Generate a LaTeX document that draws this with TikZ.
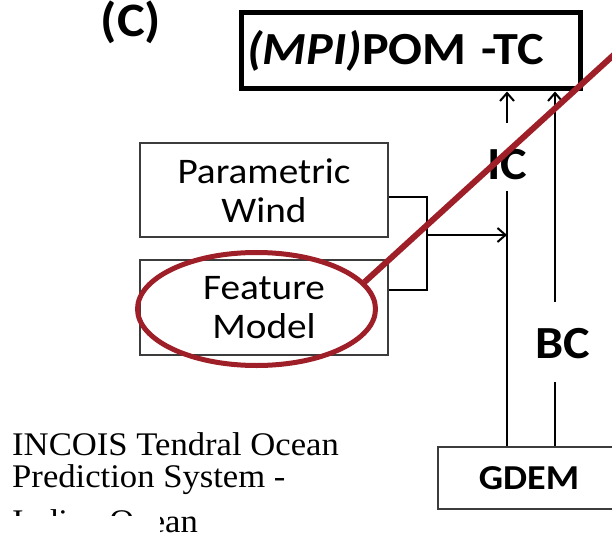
\documentclass[tikz,border=0pt]{standalone}
\usepackage{fontspec}
\setmainfont{Carlito}[FakeStretch=1.09]
\newfontfamily\notefont{Liberation Serif}[FakeStretch=1.05]
\usetikzlibrary{arrows.meta,positioning,shapes.geometric}
\definecolor{boxgray}{HTML}{3C3C3C}
\definecolor{markred}{HTML}{9E1F28}

\begin{document}
\begin{tikzpicture}[
  x=1pt, y=-1pt,
  node distance=21pt,
  modelbox/.style={
    rectangle,
    draw=boxgray,
    line width=2pt,
    minimum width=248pt,
    minimum height=94pt,
    align=center,
    inner sep=0pt,
    font=\fontsize{36}{39}\selectfont
  },
  pombox/.style={
    rectangle,
    draw=black,
    line width=5pt,
    text width=327pt,
    inner xsep=6pt,
    minimum height=76pt,
    align=left,
    font=\fontsize{46}{50}\selectfont\bfseries
  },
  flowlabel/.style={
    inner sep=0pt,
    anchor=base,
    font=\fontsize{46}{46}\selectfont\bfseries
  },
  note/.style={
    inner sep=0pt,
    anchor=base west,
    font=\notefont\fontsize{33}{33}\selectfont
  },
  link/.style={line width=2pt, draw=black},
  tip/.style={-{Straight Barb[length=8pt,width=14pt]}}
]
\useasboundingbox (0,0) rectangle (612,534);
\clip (0,0) rectangle (612,534);

\node[font=\fontsize{48}{48}\selectfont\bfseries] (panel) at (131,22) {(C)};

\node[pombox] (pom) at (410.5,51) {{\itshape (MPI)}POM -TC};

\node[modelbox] (param) at (264,190.5) {Parametric\\Wind};
\node[modelbox, below=of param] (feature) {Feature\\Model};

\node[rectangle, draw=boxgray, line width=2pt, minimum width=182pt,
  minimum height=62pt, font=\fontsize{35}{35}\selectfont\bfseries] (gdem) at (529,478) {GDEM};

\node[flowlabel, text height=57pt, text depth=11pt] (ic) at (507,180) {IC};
\node[flowlabel, text height=56pt, text depth=24pt] (bc) at (563,358) {BC};

% IC and BC feeds
\draw[link, tip] (ic.north) -- (ic.north |- pom.south);
\draw[link] (ic.south) -- (ic.south |- gdem.north);
\draw[link, tip] ([xshift=-8pt]bc.north) -- ([xshift=-8pt]bc.north |- pom.south);
\draw[link] ([xshift=-8pt]bc.south) -- ([xshift=-8pt]bc.south |- gdem.north);

% forcing bracket
\coordinate (join) at (427,235);
\draw[link] ([yshift=-6.5pt]param.east) -| (join) |- ([yshift=17.5pt]feature.east);
\draw[link, tip] (join) -- (join -| ic.south);

% caption
\node[note] (noteA) at (12,455) {INCOIS Tendral Ocean};
\node[note] (noteB) at ([yshift=-32pt]noteA.base west) {Prediction System -};
\begin{scope}
  \clip (0,490) rectangle (320,515) (160,515) rectangle (198,534);
  \node[note] (noteC) at ([yshift=-45pt]noteB.base west) {Indian Ocean};
\end{scope}

% red highlight
\node[ellipse, draw=markred, line width=5pt, minimum width=238pt,
  minimum height=113pt, inner sep=0pt] (ring) at ([xshift=-7.5pt,yshift=-1.5pt]feature.center) {};
\coordinate (pointer) at (640,31);
\draw[markred, line width=6pt] (ring.14) -- (pointer);

\end{tikzpicture}
\end{document}
